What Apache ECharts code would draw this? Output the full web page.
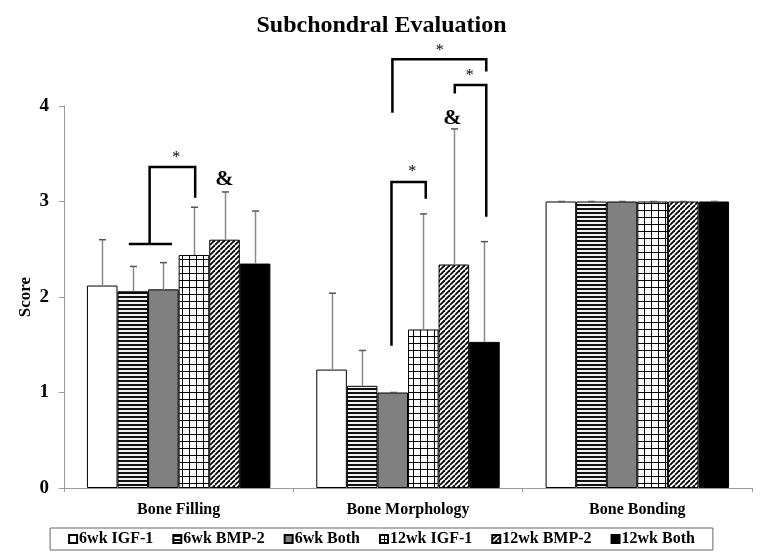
<!DOCTYPE html>
<html><head><meta charset="utf-8">
<script src="https://cdn.jsdelivr.net/npm/echarts@6/dist/echarts.min.js"></script>
<style>html,body{margin:0;padding:0;background:#fff}#c{width:763px;height:558px}</style>
</head><body><div id="c"></div>
<script>
// ---- data ----
const categories = ['Bone Filling', 'Bone Morphology', 'Bone Bonding'];
const seriesNames = ['6wk IGF-1', '6wk BMP-2', '6wk Both', '12wk IGF-1', '12wk BMP-2', '12wk Both'];
const igf6  = [2.12, 1.24, 3.00];
const bmp6  = [2.06, 1.07, 3.00];
const both6 = [2.08, 1.00, 3.00];
const igf12 = [2.44, 1.66, 3.00];
const bmp12 = [2.60, 2.34, 3.00];
const both12= [2.35, 1.53, 3.00];
const igf6Sd  = [0.48, 0.80, 0];
const bmp6Sd  = [0.26, 0.37, 0];
const both6Sd = [0.28, 0.00, 0];
const igf12Sd = [0.50, 1.21, 0];
const bmp12Sd = [0.50, 1.42, 0];
const both12Sd= [0.55, 1.05, 0];
const yTicks = [0, 1, 2, 3, 4];
// significance brackets: [category, bar position (in bar widths from group start), score]
const bracketFillBase  = [[0, 1.37, 2.555], [0, 2.78, 2.555]];
const bracketFill      = [[0, 2.05, 2.555], [0, 2.05, 3.36], [0, 3.54, 3.36], [0, 3.54, 3.04]];
const bracketMorphLow  = [[1, 2.46, 1.49], [1, 2.46, 3.205], [1, 3.58, 3.205], [1, 3.58, 3.03]];
const bracketMorphOut  = [[1, 2.49, 3.93], [1, 2.49, 4.49], [1, 5.56, 4.49], [1, 5.56, 4.36]];
const bracketMorphIn   = [[1, 4.53, 4.13], [1, 4.53, 4.22], [1, 5.56, 4.22], [1, 5.56, 2.84]];
const markPos   = [[0, 2.92, 3.50], [0, 4.5, 3.23], [1, 3.14, 3.35], [1, 4.04, 4.62], [1, 5.02, 4.36], [1, 4.45, 3.87]];
const markTexts = ['*', '&', '*', '*', '*', '&'];

const means = [igf6, bmp6, both6, igf12, bmp12, both12];
const sds = [igf6Sd, bmp6Sd, both6Sd, igf12Sd, bmp12Sd, both12Sd];
const brackets = [bracketFillBase, bracketFill, bracketMorphLow, bracketMorphOut, bracketMorphIn];

// ---- patterns ----
function pat(w, h, draw) {
  const c = document.createElement('canvas'); c.width = w; c.height = h;
  const g = c.getContext('2d'); draw(g, w, h);
  return { image: c, repeat: 'repeat' };
}
const hLines = pat(4, 4, (g) => { g.fillStyle = '#f2f2f2'; g.fillRect(0, 0, 4, 4); g.fillStyle = '#111'; g.fillRect(0, 0, 4, 2); });
const gridPat = pat(7, 7, (g) => { g.fillStyle = '#fff'; g.fillRect(0, 0, 7, 7); g.fillStyle = '#000'; g.fillRect(0, 0, 7, 1); g.fillRect(0, 0, 1, 7); });
const gridSmall = pat(4, 4, (g) => { g.fillStyle = '#fff'; g.fillRect(0, 0, 4, 4); g.fillStyle = '#000'; g.fillRect(0, 0, 4, 1); g.fillRect(0, 0, 1, 4); });
const diagPat = pat(5, 5, (g) => {
  g.fillStyle = '#fff'; g.fillRect(0, 0, 5, 5); g.strokeStyle = '#000'; g.lineWidth = 1.8;
  for (const o of [-5, 0, 5]) { g.beginPath(); g.moveTo(o, 5); g.lineTo(o + 5, 0); g.stroke(); }
});
const fills = ['#ffffff', hLines, '#808080', gridPat, diagPat, '#000000'];

const GAP = 0.2, NB = 6;
function xUnit(cat, pos) { return cat + GAP / 2 + pos * (1 - GAP) / NB; }

const font = 'Liberation Serif';
const series = [];
seriesNames.forEach((n, i) => {
  series.push({
    name: n, type: 'bar', data: means[i], barGap: '0%', barCategoryGap: '20%',
    itemStyle: { color: fills[i], borderColor: '#000', borderWidth: 1 }, z: 2
  });
});
// error bars
const errData = [];
means.forEach((arr, s) => arr.forEach((v, c) => errData.push([c, s, v, sds[s][c]])));
series.push({
  type: 'custom', name: 'err', data: errData, z: 5, silent: true,
  encode: { x: 0, y: 2 },
  renderItem: (params, api) => {
    const c = api.value(0), s = api.value(1), m = api.value(2), sd = api.value(3);
    const bw = api.size([1, 0])[0];
    const bar = bw * (1 - GAP) / NB;
    const base = api.coord([c, m]);
    const top = api.coord([c, m + sd]);
    const x = Math.round(base[0] - bw * (1 - GAP) / 2 + bar * (s + 0.5)) + 0.5;
    return { type: 'group', children: [
      { type: 'line', shape: { x1: x, y1: base[1], x2: x, y2: top[1] }, style: { stroke: '#8a8a8a', lineWidth: 1.5 } },
      { type: 'line', shape: { x1: x - 3.5, y1: top[1], x2: x + 3.5, y2: top[1] }, style: { stroke: '#555', lineWidth: 1.5 } }
    ] };
  }
});
// brackets
series.push({
  type: 'custom', name: 'brackets', xAxisIndex: 1, yAxisIndex: 0, silent: true, z: 6,
  data: brackets.map((b, i) => [xUnit(b[0][0], b[0][1]), b[0][2], i]),
  renderItem: (params, api) => {
    const b = brackets[params.dataIndex];
    const pts = b.map(p => api.coord([xUnit(p[0], p[1]), p[2]]));
    return { type: 'polyline', shape: { points: pts }, style: { stroke: '#000', lineWidth: 2.5, fill: null } };
  }
});
// marks
series.push({
  type: 'custom', name: 'marks', xAxisIndex: 1, yAxisIndex: 0, silent: true, z: 6,
  data: markPos.map(p => [xUnit(p[0], p[1]), p[2]]),
  renderItem: (params, api) => {
    const t = markTexts[params.dataIndex];
    const p = api.coord([api.value(0), api.value(1)]);
    const star = t === '*';
    return { type: 'text', x: p[0], y: p[1] + (star ? 4 : 0), style: {
      text: t, fill: '#000', align: 'center', verticalAlign: 'middle',
      font: (star ? 'normal 16px ' : 'bold 22px ') + '"' + font + '"' } };
  }
});

const legendData = seriesNames.map((n, i) => i === 3 ? { name: n, itemStyle: { color: gridSmall } } : { name: n });

const chart = echarts.init(document.getElementById('c'), null, { renderer: 'canvas' });
chart.setOption({
  backgroundColor: '#fff',
  animation: false,
  title: { text: 'Subchondral Evaluation', left: 'center', top: 9,
    textStyle: { fontFamily: font, fontWeight: 'bold', fontSize: 24, color: '#000' } },
  legend: {
    data: legendData, bottom: 8, left: 'center', itemWidth: 8, itemHeight: 8, itemGap: 19,
    icon: 'rect', borderColor: '#666', borderWidth: 1, padding: [3, 18],
    textStyle: { fontFamily: font, fontWeight: 'bold', fontSize: 16, color: '#000', padding: [0, 0, 0, -3] }
  },
  grid: { left: 64, right: 11, top: 106, bottom: 70, containLabel: false },
  xAxis: [
    { type: 'category', data: categories,
      axisLine: { lineStyle: { color: '#999', width: 1 } },
      axisTick: { show: true, length: 4, lineStyle: { color: '#999' } },
      axisLabel: { fontFamily: font, fontWeight: 'bold', fontSize: 16, color: '#000', margin: 14 } },
    { type: 'value', min: 0, max: 3, show: false }
  ],
  yAxis: {
    type: 'value', min: yTicks[0], max: yTicks[yTicks.length - 1], interval: 1,
    name: 'Score', nameLocation: 'middle', nameGap: 30, nameRotate: 90, nameMoveOverlap: false,
    nameTextStyle: { fontFamily: font, fontWeight: 'bold', fontSize: 17, color: '#000' },
    axisLine: { show: true, lineStyle: { color: '#999', width: 1 } },
    axisTick: { show: true, length: 5, lineStyle: { color: '#999' } },
    splitLine: { show: false },
    axisLabel: { fontFamily: font, fontWeight: 'bold', fontSize: 19, color: '#000', margin: 15 }
  },
  series: series
});
</script></body></html>
